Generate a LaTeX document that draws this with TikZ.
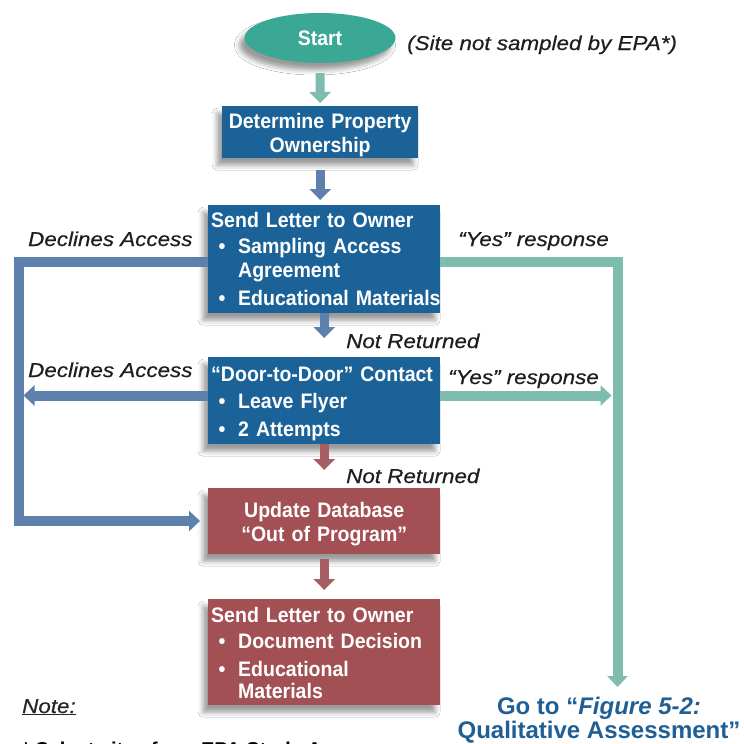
\documentclass[tikz,border=0pt]{standalone}
\usepackage{fontspec}
\setmainfont{Liberation Sans}
\newfontfamily\boxfont[FakeStretch=0.93]{Liberation Sans}
\newfontfamily\lblfont[FakeStretch=1.12,FakeBold=0.5]{Liberation Sans}
\usetikzlibrary{shapes.geometric,arrows.meta,shadows.blur}
\definecolor{tealD}{HTML}{3BA896}
\definecolor{tealL}{HTML}{7EBCAE}
\definecolor{boxB}{HTML}{1B6298}
\definecolor{arrB}{HTML}{5D80AD}
\definecolor{boxR}{HTML}{A35055}
\definecolor{arrR}{HTML}{A75E62}
\definecolor{goB}{HTML}{1F5F95}
\definecolor{lblc}{HTML}{1E1E1E}
\newcommand\bitem[1]{\makebox[27pt][l]{\hspace{7.5pt}\textbullet}\mbox{#1}}
\newcommand\bind[1]{\hspace*{27pt}\mbox{#1}}
\newcommand\fstrut[1]{\rule{0pt}{#1}}
\begin{document}
\begin{tikzpicture}[x=1pt,y=-1pt,
  shad/.style={blur shadow={shadow xshift=-5pt,shadow yshift=-7pt,shadow blur radius=5pt,shadow opacity=40}},
  boxbase/.style={shad,rectangle,inner xsep=3pt,inner ysep=0pt,text=white,
    font=\boxfont\fontsize{21}{24}\selectfont\bfseries,anchor=north west},
  box/.style={boxbase,minimum width=232pt,text width=226pt,align=left},
  cbox/.style={boxbase,minimum width=232pt,text width=226pt,align=center},
  lbl/.style={font=\lblfont\itshape\fontsize{20}{24}\selectfont,text=lblc,inner sep=0pt,anchor=base west},
  varrow/.style={line width=9pt,-{Triangle[width=21pt,length=11pt]}},
  conn/.style={line width=10pt,-{Triangle[width=20pt,length=11pt]}}
]
\useasboundingbox (0,0) rectangle (744,744);
\fill[white] (0,0) rectangle (744,744);

% nodes
\node[shad,ellipse,fill=tealD,minimum width=151pt,minimum height=50pt,inner sep=0pt,
  text=white,font=\boxfont\fontsize{21}{24}\selectfont\bfseries] (start) at (320,38) {Start};
\node[lbl] (site) at (407,50) {(Site not sampled by EPA*)};

\node[boxbase,fill=boxB,minimum width=196pt,minimum height=52pt,text width=190pt,align=center]
  (det) at (222,106) {\fstrut{20.4pt}Determine Property\\Ownership};

\node[box,fill=boxB,minimum height=108pt] (sl1) at (208,205)
  {Send Letter to Owner\\[2pt]\bitem{Sampling Access}\\ \bind{Agreement}\\[4pt]\bitem{Educational Materials}};

\node[box,fill=boxB,minimum height=87pt] (door) at (208,357)
  {\fstrut{20.4pt}“Door-to-Door” Contact\\[3pt]\bitem{Leave Flyer}\\[4pt]\bitem{2 Attempts}};

\node[cbox,fill=boxR,minimum height=66pt] (upd) at (208,488)
  {\fstrut{20.4pt}Update Database\\“Out of Program”};

\node[box,fill=boxR,minimum height=106pt] (sl2) at (208,599)
  {\fstrut{16.3pt}Send Letter to Owner\\[2pt]\bitem{Document Decision}\\[4pt]\bitem{Educational}\\[-2pt]\bind{Materials}};

\node[anchor=north,inner sep=0pt,align=center,text=goB,
  font=\fontsize{24}{24}\selectfont\bfseries] (goto) at (599,696.5)
  {Go to “\textit{Figure 5-2:}\\Qualitative Assessment”};

% labels
\node[lbl] (decl1) at (28,246) {Declines Access};
\node[lbl] (yes1) at (458,246) {“Yes” response};
\node[lbl] (nr1) at (346,348) {Not Returned};
\node[lbl] (decl2) at (28,377) {Declines Access};
\node[lbl] (yes2) at (448,384) {“Yes” response};
\node[lbl] (nr2) at (346,483) {Not Returned};
\node[lbl,text=black!85] (note) at (22,713) {\underline{Note:}};
\node[anchor=base west,inner sep=0pt,font=\fontsize{20}{24}\selectfont\bfseries] (foot) at (22,756)
  {* Select sites from EPA Study Area};

% vertical arrows
\draw[varrow,tealL,shorten <=10pt,shorten >=3pt] (start.south) -- (det.north);
\draw[varrow,arrB,shorten <=12pt,shorten >=5pt] (det.south) -- (det.south |- sl1.north);
\draw[varrow,arrB,shorten >=19pt] (sl1.south) -- (door.north);
\draw[varrow,arrR,shorten >=18pt] (door.south) -- (upd.north);
\draw[varrow,arrR,shorten <=5pt,shorten >=9pt] (upd.south) -- (sl2.north);

% connectors
\coordinate (LT) at (18.5,262);
\coordinate (LB) at (18.5,521);
\coordinate (RT) at (617.5,262);
\coordinate (DL) at (18.5,395.5);
\coordinate (DR) at (617.5,395.5);
\draw[conn,arrB,shorten >=8pt] (sl1.west |- LT) -- (LT) -- (LB) -- (upd.west |- LB);
\draw[conn,tealL,shorten >=9.5pt] (sl1.east |- RT) -- (RT) -- (RT |- goto.north);
\draw[conn,arrB,shorten >=5pt] (door.west |- DL) -- (DL);
\draw[conn,tealL,shorten >=6pt] (door.east |- DR) -- (DR);
\end{tikzpicture}
\end{document}
